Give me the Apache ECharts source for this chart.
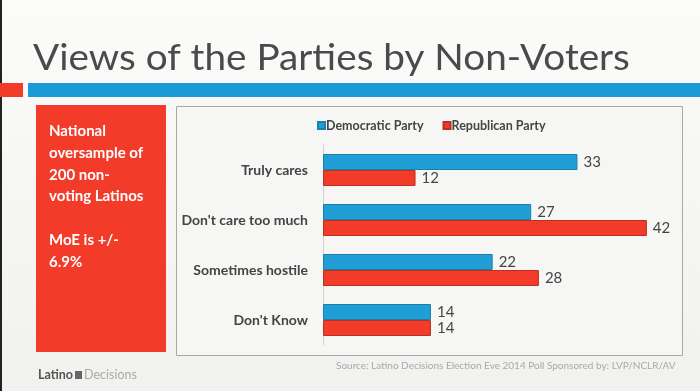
<!DOCTYPE html>
<html>
<head>
<meta charset="utf-8">
<script src="https://cdn.jsdelivr.net/npm/echarts@6/dist/echarts.min.js"></script>
<style>
html,body{margin:0;padding:0;background:#f3f3f1;}
#c{width:700px;height:391px;}
</style>
</head>
<body>
<div id="c"></div>
<script>
const categories = ["Truly cares", "Don't care too much", "Sometimes hostile", "Don't Know"];
const democratic = [33, 27, 22, 14];
const republican = [12, 42, 28, 14];
const seriesNames = ["Democratic Party", "Republican Party"];
const titleText = "Views of the Parties by Non-Voters";
const noteLines = ["National", "oversample of", "200 non-", "voting Latinos", "", "MoE is +/-", "6.9%"];
const sourceText = "Source: Latino Decisions Election Eve 2014 Poll Sponsored by: LVP/NCLR/AV";

const BLUE = "#1f9fd6";
const RED = "#f23b29";
const FONT = "Lato, 'Open Sans', sans-serif";

const chart = echarts.init(document.getElementById('c'), null, {renderer: 'canvas'});

const noteTexts = noteLines.map((t, i) => ({
  type: 'text', x: 49, y: 124 + i * 21.7,
  style: {text: t, fill: '#fff', font: 'bold 15px ' + FONT}
}));

chart.setOption({
  backgroundColor: {
    type: 'linear', x: 0, y: 0, x2: 0, y2: 1,
    colorStops: [{offset: 0, color: '#fbfbfa'}, {offset: 1, color: '#f1f1ef'}]
  },
  animation: false,
  graphic: [
    {type: 'rect', shape: {x: 0, y: 0, width: 2, height: 391}, style: {fill: '#222'}},
    {type: 'text', x: 33, y: 40, scaleX: 1.075,
      style: {text: titleText, fill: '#4a4a4a', font: '36px ' + FONT}},
    {type: 'rect', shape: {x: 0, y: 83, width: 23, height: 14}, style: {fill: RED}},
    {type: 'rect', shape: {x: 28, y: 83, width: 672, height: 14}, style: {fill: '#1b9bd6'}},
    {type: 'rect', shape: {x: 36, y: 105, width: 130, height: 247}, style: {fill: RED}},
    {type: 'rect', z: -1, shape: {x: 176.5, y: 106.5, width: 506, height: 249}, style: {fill: '#f6f6f4', stroke: '#a8a8a8', lineWidth: 1}},
    ...noteTexts,
    {type: 'text', left: 336, top: 361, style: {text: sourceText, fill: '#a8a8a8', font: '10px ' + FONT}},
    {type: 'text', left: 38, top: 368, style: {text: 'Latino', fill: '#555', font: 'bold 12.5px ' + FONT}},
    {type: 'rect', shape: {x: 75, y: 371, width: 7, height: 8}, style: {fill: '#666'}},
    {type: 'text', left: 84, top: 368, style: {text: 'Decisions', fill: '#aaa', font: '12.5px ' + FONT}}
  ],
  legend: {
    data: seriesNames, left: 317, top: 119, padding: 0,
    itemWidth: 7, itemHeight: 7, itemGap: 19, icon: 'rect',
    textStyle: {fontFamily: FONT, fontSize: 12.5, fontWeight: 'bold', color: '#444', padding: [0, 0, 0, -4]}
  },
  grid: {left: 323, top: 145, height: 200, right: 30, containLabel: false},
  xAxis: {
    type: 'value', min: 0, max: 45, show: false
  },
  yAxis: {
    type: 'category', data: categories, inverse: true,
    axisLine: {show: true, lineStyle: {color: '#cfcfcf', width: 1}},
    axisTick: {show: false},
    axisLabel: {margin: 15, fontFamily: FONT, fontSize: 14, fontWeight: 'bold', color: '#444'}
  },
  series: [
    {
      name: seriesNames[0], type: 'bar', data: democratic, barWidth: 16, barGap: '0%',
      itemStyle: {color: BLUE, borderColor: '#1b7fae', borderWidth: 1},
      label: {show: true, position: 'right', distance: 6, fontFamily: FONT, fontSize: 15, color: '#444'}
    },
    {
      name: seriesNames[1], type: 'bar', data: republican, barWidth: 16,
      itemStyle: {color: RED, borderColor: '#b83224', borderWidth: 1},
      label: {show: true, position: 'right', distance: 6, fontFamily: FONT, fontSize: 15, color: '#444'}
    }
  ]
});
</script>
</body>
</html>
